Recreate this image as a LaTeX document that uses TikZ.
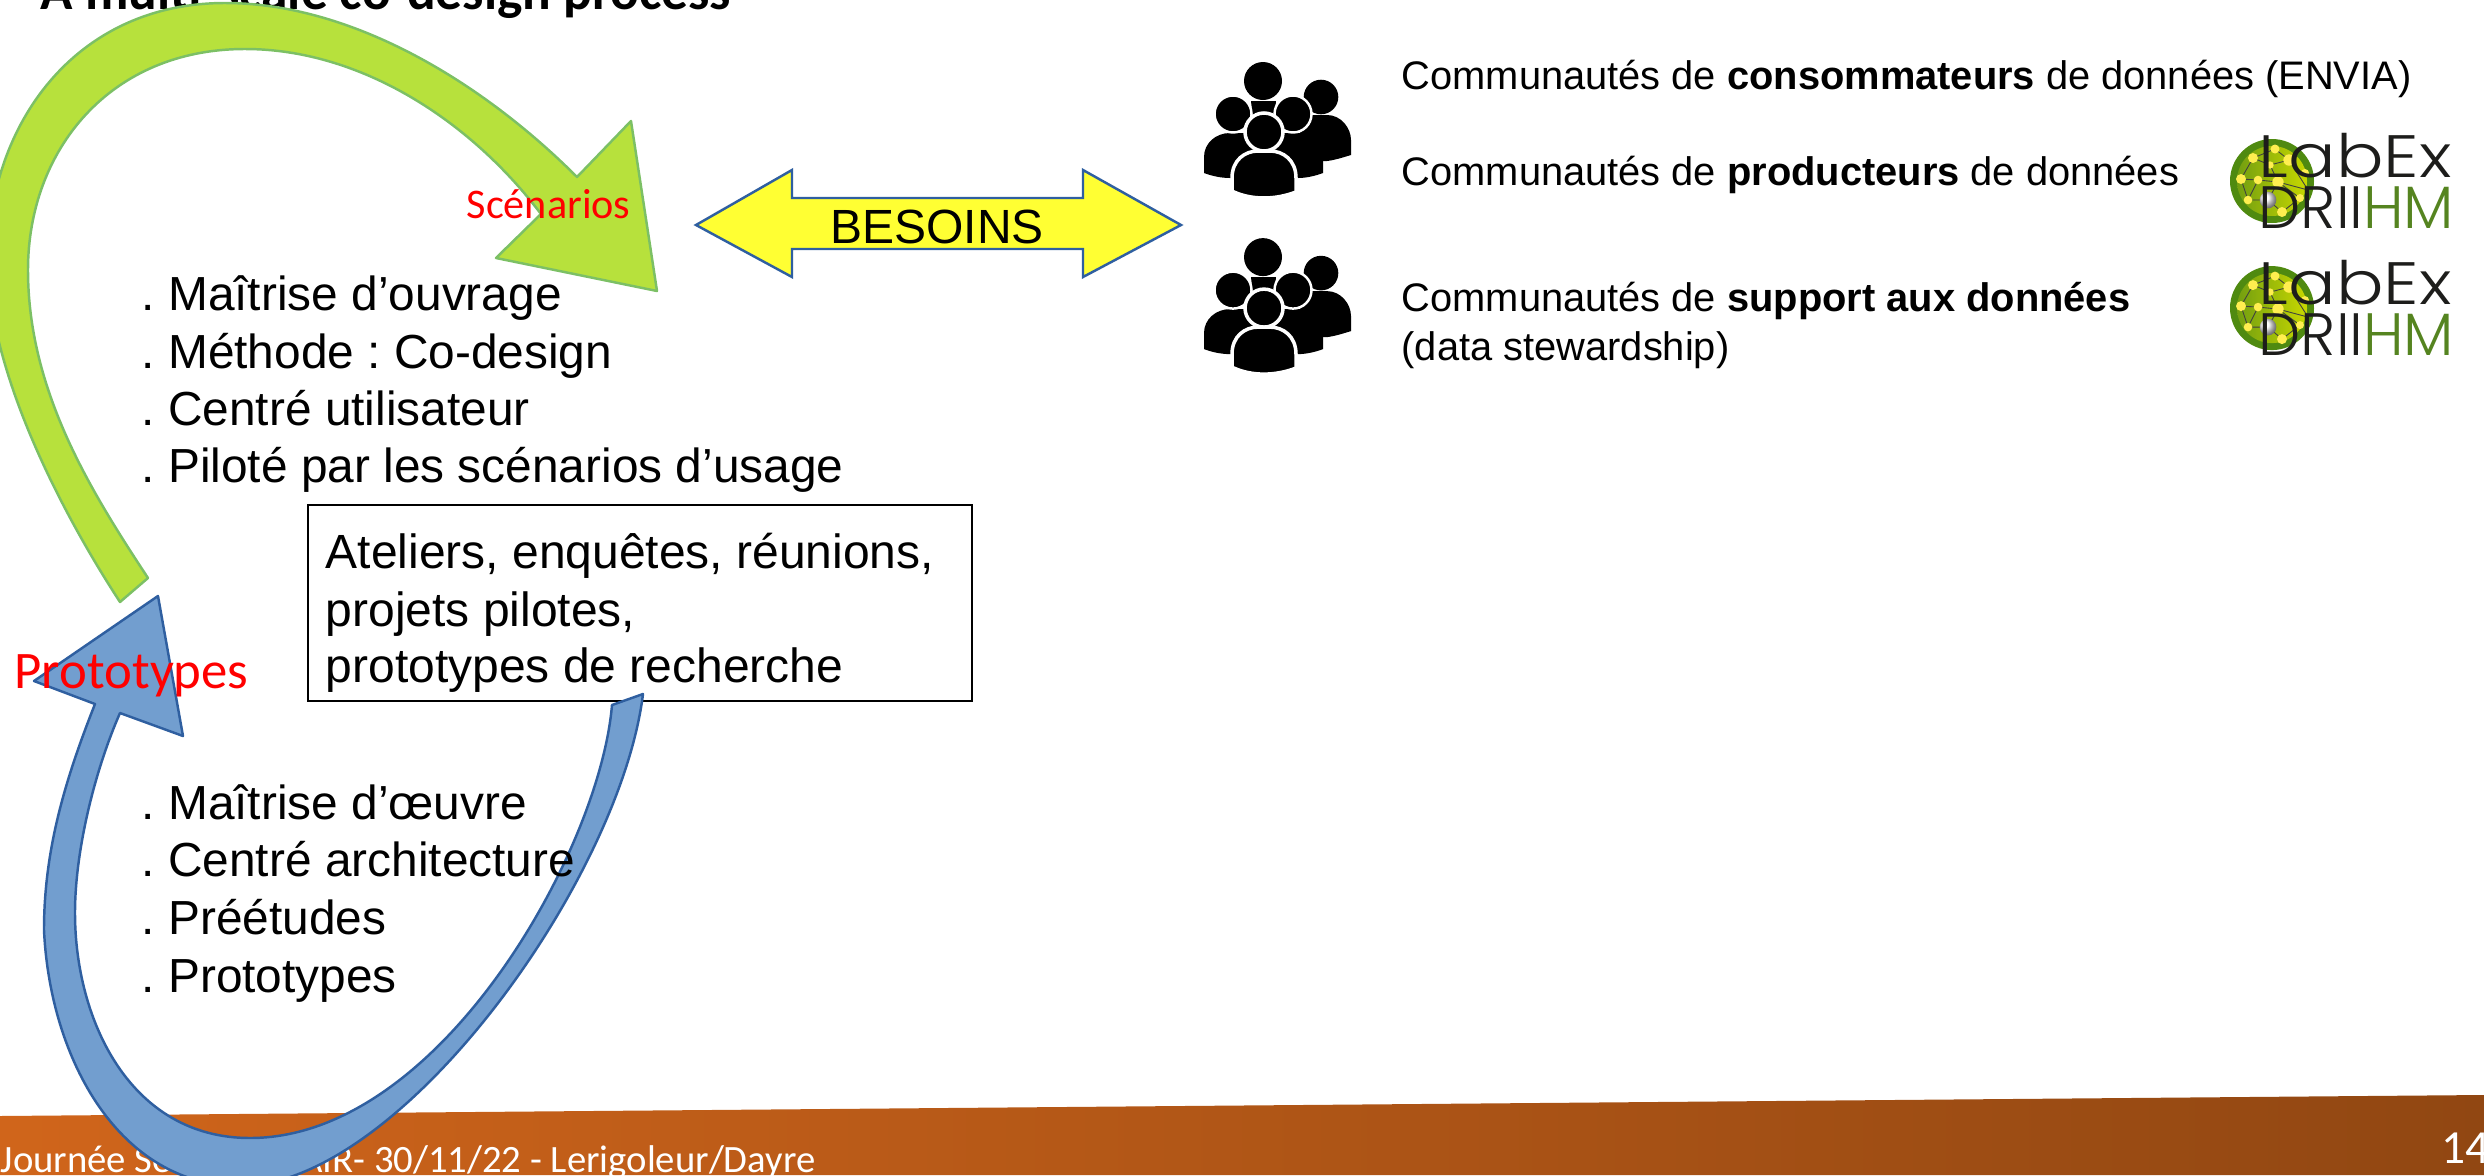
\documentclass[tikz,border=0pt]{standalone}
\usepackage{fontspec}
\setmainfont{Liberation Sans}
\newfontfamily\carlito{Carlito}
\newfontfamily\logofontA[FakeStretch=1.18]{Poppins Light}
\newfontfamily\logofontB{Poppins Light}
\definecolor{greenfill}{HTML}{B7E13C}
\definecolor{greenline}{HTML}{7CC065}
\definecolor{bluefill}{HTML}{729ECF}
\definecolor{blueline}{HTML}{2F5FA0}
\definecolor{yellowfill}{HTML}{FFFF33}
\definecolor{footL}{HTML}{D0651B}
\definecolor{footR}{HTML}{914712}
\definecolor{logodark}{HTML}{4F8A10}
\definecolor{logomid}{HTML}{7FB012}
\definecolor{logolight}{HTML}{C8D800}
\definecolor{logodot}{HTML}{FFEE50}
\definecolor{logohm}{HTML}{558420}
\definecolor{logoblack}{HTML}{1D1D1B}
\frenchspacing
\tikzset{
  x=0.01cm,y=-0.01cm,
  bigtext/.style={anchor=base west,inner sep=0pt,font=\fontsize{13.65}{16}\selectfont},
  listtext/.style={anchor=base west,inner sep=0pt,font=\fontsize{13.6}{16}\selectfont},
  smalltext/.style={anchor=base west,inner sep=0pt,font=\fontsize{11.33}{13}\selectfont},
  greenarrow/.style={fill=greenfill,draw=greenline,line width=0.7pt,line join=round},
  bluearrow/.style={fill=bluefill,draw=blueline,line width=0.7pt,line join=round},
  redlabel/.style={anchor=base west,inner sep=0pt,text=red},
  iconbody/.style={fill=black,draw=white,line width=0.7pt},
  people/.pic={
    \fill (1263,81) circle (19);
    \fill (1251,101) -- (1276,101) -- (1274,120) -- (1253,120) -- cycle;
    \fill (1321,97) circle (17.3);
    \fill (1313,115) -- (1327,115) .. controls (1341,115) and (1351,128) .. (1351,140) -- (1351,155) .. controls (1341,158) and (1335,160) .. (1327,161) -- (1300,161) -- (1300,115) -- cycle;
    \fill (1204,157) .. controls (1204,143) and (1216,133) .. (1230,133) -- (1300,133) .. controls (1313,133) and (1323,143) .. (1323,157) -- (1323,173) .. controls (1315,176) and (1306,178) .. (1298,178) -- (1230,178) .. controls (1221,178) and (1212,176) .. (1204,173) -- cycle;
    \draw[iconbody] (1233,114) circle (18.5);
    \draw[iconbody] (1293,114) circle (18.5);
    \draw[iconbody,line width=1pt] (1264,132) circle (19);
    \draw[iconbody,line width=1pt] (1232,195) -- (1232,178) .. controls (1232,160) and (1245,151) .. (1258,151) -- (1270,151) .. controls (1283,151) and (1296,160) .. (1296,178) -- (1296,192) .. controls (1275,200) and (1252,200) .. (1234,192) -- cycle;
  },
  labexlogo/.pic={
    \fill[logodark] (2272,181) circle (42);
    \shade[left color=logomid!90!black,right color=logolight] (2272,181) circle (35);
    \draw[black!75,line width=0.25pt] (2253,158) -- (2275,149) -- (2289,160) -- (2308,190) -- (2278,182) -- (2258,180) -- (2241,179) -- (2253,158) -- (2270,165) -- (2278,182) -- (2268,200) -- (2248,200) -- (2241,179) (2278,182) -- (2300,198) -- (2282,212) -- (2268,200) (2289,160) -- (2270,165) (2258,180) -- (2248,200);
    \fill[logodot] (2253,158) circle (5);
    \fill[logodot] (2275,149) circle (4.5);
    \fill[logodot] (2289,160) circle (5.7);
    \fill[logodot] (2270,165) circle (3.7);
    \fill[logodot] (2241,179) circle (5);
    \fill[logodot] (2258,180) circle (4.3);
    \fill[logodot] (2278,182) circle (5.7);
    \fill[logodot] (2248,200) circle (4.3);
    \fill[logodot] (2282,212) circle (5);
    \fill[logodot] (2305,173) circle (4);
    \fill[logodot] (2300,198) circle (4);
    \shade[ball color=white] (2268,200) circle (8.3);
  },
}
\begin{document}
\begin{tikzpicture}
\useasboundingbox (0,0) rectangle (2484,1175);
% footer
\shade[left color=footL,right color=footR] (0,1116) -- (2484,1095) -- (2484,1175) -- (0,1175) -- cycle;
\node[anchor=base west,inner sep=0pt,text=white,font=\carlito\fontsize{11}{13}\selectfont] (foot) at (0,1172) {Journée Seminaire AIR- 30/11/22 - Lerigoleur/Dayre};
\node[anchor=base west,inner sep=0pt,text=white,font=\carlito\fontsize{13.5}{15}\selectfont] (num) at (2441,1163) {14};
% title
\node[anchor=base west,inner sep=0pt,font=\carlito\bfseries\fontsize{15.2}{18}\selectfont] (title) at (40,9) {A multi-scale co-design process};
% green arrow
\draw[greenarrow] (148,578) -- (120,602)
  .. controls (60,510) and (-12,370) .. (-12,260)
  .. controls (-12,125) and (75,3) .. (225,3)
  .. controls (350,3) and (480,80) .. (577,177)
  -- (631,121) -- (657,291) -- (496,258) -- (541,214)
  .. controls (470,120) and (360,49) .. (245,49)
  .. controls (110,49) and (28,150) .. (28,270)
  .. controls (28,390) and (90,490) .. (148,578) -- cycle;
% text left
\node[listtext] (t1) at (141,310) {. Maîtrise d’ouvrage};
\node[listtext] (t2) at (141,368) {. Méthode : Co-design};
\node[listtext] (t3) at (141,425) {. Centré utilisateur};
\node[listtext] (t4) at (141,482) {. Piloté par les scénarios d’usage};
% box
\fill[white,draw=black,line width=0.6pt] (308,505) rectangle (972,701);
\node[bigtext] (b1) at (325,568) {Ateliers, enquêtes, réunions,};
\node[bigtext] (b2) at (325,626) {projets pilotes,};
\node[bigtext] (b3) at (325,682) {prototypes de recherche};
% blue arrow
\draw[bluearrow] (643,694) -- (612,705)
  .. controls (600,850) and (440,1138) .. (250,1138)
  .. controls (130,1138) and (75,1020) .. (75,913)
  .. controls (75,850) and (95,770) .. (120,713)
  -- (183,736) -- (158,596) -- (34,681) -- (95,704)
  .. controls (65,780) and (44,850) .. (44,930)
  .. controls (50,1060) and (120,1186) .. (240,1186)
  .. controls (400,1186) and (620,880) .. (643,694) -- cycle;
\node[listtext] (t5) at (141,819) {. Maîtrise d’œuvre};
\node[listtext] (t6) at (141,876) {. Centré architecture};
\node[listtext] (t7) at (141,934) {. Préétudes};
\node[listtext] (t8) at (141,992) {. Prototypes};
% red labels
\node[redlabel,font=\carlito\fontsize{12}{14}\selectfont] (scen) at (466,218) {Scénarios};
\node[redlabel,font=\carlito\fontsize{15}{17}\selectfont] (proto) at (14,688) {Prototypes};
% besoins
\draw[fill=yellowfill,draw=blueline,line width=0.7pt] (696,225) -- (792,170) -- (792,198) -- (1083,198) -- (1083,170) -- (1181,225) -- (1083,277) -- (1083,249) -- (792,249) -- (792,277) -- cycle;
\node[anchor=base,inner sep=0pt,font=\fontsize{13.65}{16}\selectfont] (bes) at (937,243) {BESOINS};
% icons
\pic {people};
\pic[yshift=-1.76cm] {people};
% right text
\node[smalltext] (r1) at (1401,89) {Communautés de \textbf{consommateurs} de données (ENVIA)};
\node[smalltext] (r2) at (1401,185) {Communautés de \textbf{producteurs} de données};
\node[smalltext] (r3) at (1401,311) {Communautés de \textbf{support aux données}};
\node[smalltext] (r4) at (1401,360) {(data stewardship)};
% logos
\pic {labexlogo};
\pic[yshift=-1.27cm] {labexlogo};
\foreach \i/\d in {1/0,2/127}{
  \node[anchor=base west,inner sep=0pt,text=logoblack,font=\logofontA\fontsize{17}{17}\selectfont] (lab\i) at (2258,177+\d) {LabEx};
  \node[anchor=base west,inner sep=0pt,text=logoblack,font=\logofontB\fontsize{17}{17}\selectfont] (dr\i) at (2258,228+\d) {DRII{\color{logohm}HM}};
}
\end{tikzpicture}
\end{document}
